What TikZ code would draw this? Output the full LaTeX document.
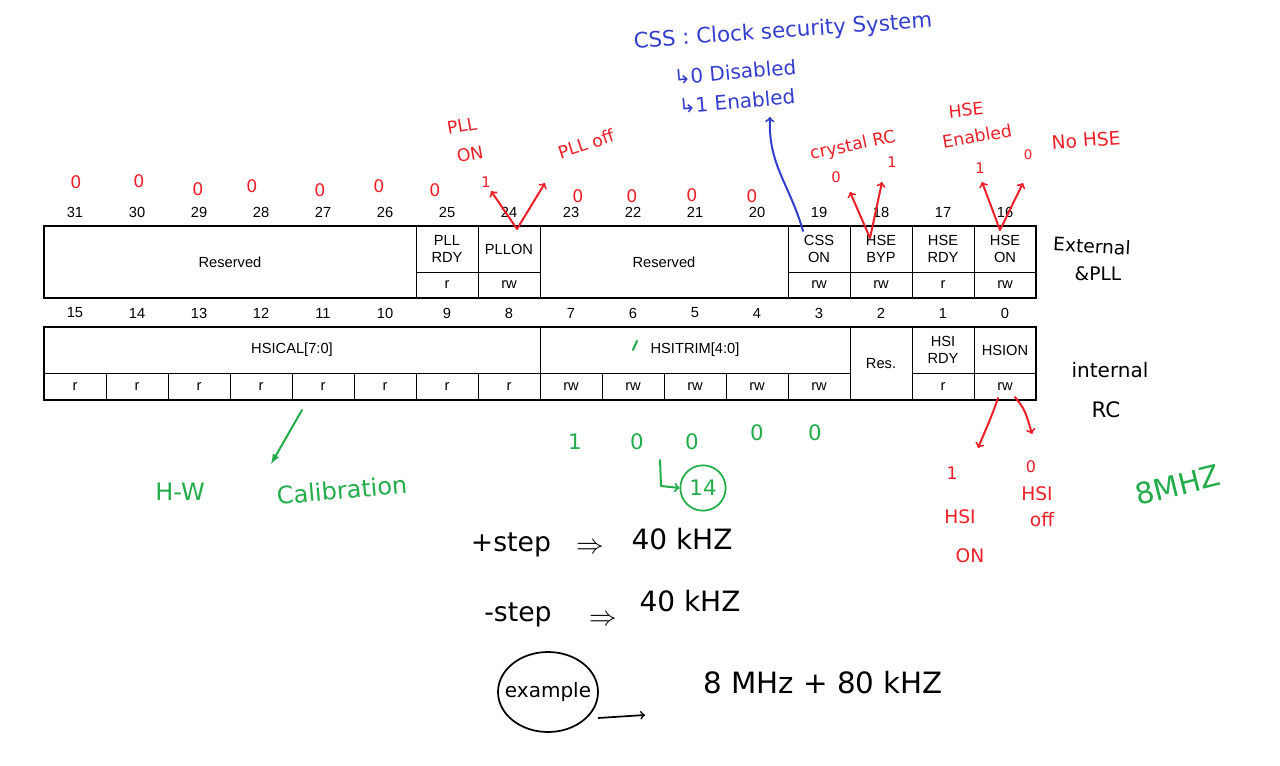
\documentclass[tikz,border=0pt]{standalone}
\usepackage{fontspec}
\setmainfont{Liberation Sans}
\newfontfamily\handfont{DejaVu Sans}
\usepackage{xcolor}
\usetikzlibrary{calc}

\definecolor{penred}{RGB}{236,32,40}
\definecolor{penblue}{RGB}{52,62,205}
\definecolor{pengreen}{RGB}{34,172,74}

\tikzset{
	bitfont/.style = {font = \fontsize{11}{12.5}\selectfont, align = center, inner sep = 0pt},
	handtext/.style = {font = \handfont\fontsize{#1}{#1}\selectfont, align = center, inner sep = 0pt},
	penstroke/.style = {line width = 1.5pt, line cap = round, line join = round}
}

% one field of the register: name, first column, last column + 1, top, bottom, text
\newcommand{\regfield}[6]{%
	\draw ({\xo+(#2)*\cw},#4) rectangle ({\xo+(#3)*\cw},#5);
	\node (#1) at ({\xo+((#2)+(#3))/2*\cw},{(#4+#5)/2}) [bitfont] {#6};
}

\begin{document}
\begin{tikzpicture}[x = 0.75pt, y = -0.75pt, line width = 0.7pt]
		\def\xo{44};
		\def\cw{62};
		
		\useasboundingbox (0,0) rectangle (1280,766);
		
		% bit numbers
		\foreach \b in {16,...,31}
			\node (bit\b) at ({\xo+(31-\b+0.5)*\cw},212) [bitfont] {\b};
		\foreach \b in {0,...,15}
			\node (bit\b) at ({\xo+(15-\b+0.5)*\cw},313) [bitfont] {\b};
		
		% upper half word
		\regfield{resA}{0}{6}{226}{298}{Reserved}
		\regfield{pllrdy}{6}{7}{226}{272}{PLL\\RDY}
		\regfield{pllrdyacc}{6}{7}{272}{298}{r}
		\regfield{pllon}{7}{8}{226}{272}{PLLON}
		\regfield{pllonacc}{7}{8}{272}{298}{rw}
		\regfield{resB}{8}{12}{226}{298}{Reserved}
		\regfield{csson}{12}{13}{226}{272}{CSS\\ON}
		\regfield{cssonacc}{12}{13}{272}{298}{rw}
		\regfield{hsebyp}{13}{14}{226}{272}{HSE\\BYP}
		\regfield{hsebypacc}{13}{14}{272}{298}{rw}
		\regfield{hserdy}{14}{15}{226}{272}{HSE\\RDY}
		\regfield{hserdyacc}{14}{15}{272}{298}{r}
		\regfield{hseon}{15}{16}{226}{272}{HSE\\ON}
		\regfield{hseonacc}{15}{16}{272}{298}{rw}
		\draw [line width = 1.3pt] (\xo,226) rectangle ({\xo+16*\cw},298);
		
		% lower half word
		\regfield{hsical}{0}{8}{327}{373}{HSICAL[7:0]}
		\foreach \k in {0,...,7}
			{\regfield{cal\k}{\k}{\k+1}{373}{400}{r}}
		\regfield{hsitrim}{8}{13}{327}{373}{HSITRIM[4:0]}
		\foreach \k in {8,...,12}
			{\regfield{trim\k}{\k}{\k+1}{373}{400}{rw}}
		\regfield{res}{13}{14}{327}{400}{Res.}
		\regfield{hsirdy}{14}{15}{327}{373}{HSI\\RDY}
		\regfield{hsirdyacc}{14}{15}{373}{400}{r}
		\regfield{hsion}{15}{16}{327}{373}{HSION}
		\regfield{hsionacc}{15}{16}{373}{400}{rw}
		\draw [line width = 1.3pt] (\xo,327) rectangle ({\xo+16*\cw},400);
		
		% red notes above the upper half word
		\foreach \x/\y [count = \i] in {76/182, 139/181, 198/189, 252/186, 320/190, 379/186, 435/190, 578/196, 632/196, 692/195, 752/196}
			\node (zero\i) at (\x,\y) [handtext = 13, penred] {0};
		
		\node (pllnote) at (462,126) [handtext = 13, penred, rotate = 10] {PLL};
		\node (onnote) at (470,154) [handtext = 13, penred, rotate = 10] {ON};
		\node (pllone) at (486,182) [handtext = 11, penred] {1};
		\node (plloffnote) at (586,144) [handtext = 13, penred, rotate = 18] {PLL off};
		\coordinate (pllfoot) at (517,229);
		\draw [penred, penstroke, ->] (pllfoot) -- (491,191);
		\draw [penred, penstroke, ->] (pllfoot) -- (545,183);
		
		\node (crystnote) at (853,146) [handtext = 13, penred, rotate = 12] {crystal RC};
		\node (bypzero) at (836,177) [handtext = 11, penred] {0};
		\node (bypone) at (892,162) [handtext = 11, penred] {1};
		\coordinate (bypfoot) at (870,238);
		\draw [penred, penstroke, ->] (bypfoot) -- (850,192);
		\draw [penred, penstroke, ->] (bypfoot) -- (882,182);
		
		\node (hsenote) at (966,110) [handtext = 13, penred, rotate = 6] {HSE};
		\node (ennote) at (977,136) [handtext = 13, penred, rotate = 10] {Enabled};
		\node (hseone) at (980,168) [handtext = 11, penred] {1};
		\node (hsezero) at (1028,155) [handtext = 10, penred] {0};
		\node (nohsenote) at (1086,140) [handtext = 14, penred, rotate = 4] {No HSE};
		\coordinate (hsefoot) at (1000,230);
		\draw [penred, penstroke, ->] (hsefoot) -- (982,182);
		\draw [penred, penstroke, ->] (hsefoot) -- (1023,183);
		
		% blue notes on CSS
		\node (cssnote) at (783,32) [handtext = 16, penblue, rotate = 4] {CSS : Clock security System};
		\node (cssoff) at (735,72) [handtext = 15, penblue, rotate = 5] {↳0 Disabled};
		\node (csson1) at (737,101) [handtext = 15, penblue, rotate = 5] {↳1 Enabled};
		\coordinate (cssfoot) at (803,231);
		\draw [penblue, penstroke, ->] (cssfoot) .. controls (790,185) and (768,165) .. (770,117);
		
		% black notes on the right
		\node (extnote) at (1092,246) [handtext = 14, rotate = -3] {External};
		\node (pllnoteb) at (1098,274) [handtext = 14] {\&PLL};
		\node (intnote) at (1110,370) [handtext = 15] {internal};
		\node (rcnote) at (1106,410) [handtext = 16] {RC};
		
		% red notes on HSION
		\coordinate (hsionfoot) at (998,398);
		\coordinate (hsionfootb) at (1015,397);
		\draw [penred, penstroke, ->] (hsionfoot) .. controls (992,415) .. (978,448);
		\draw [penred, penstroke, ->] (hsionfootb) .. controls (1025,410) .. (1032,434);
		\node (hsionone) at (952,473) [handtext = 13, penred] {1};
		\node (hsionnote) at (960,517) [handtext = 14, penred] {HSI};
		\node (onnoteb) at (970,556) [handtext = 14, penred] {ON};
		\node (hsionzero) at (1031,467) [handtext = 12, penred] {0};
		\node (hsioffnote) at (1037,494) [handtext = 14, penred] {HSI};
		\node (offnote) at (1042,520) [handtext = 14, penred] {off};
		
		% green notes
		\node (mhznote) at (1178,485) [handtext = 22, pengreen, rotate = 14] {8MHZ};
		\node (hwnote) at (180,492) [handtext = 18, pengreen] {H-W};
		\node (calnote) at (342,490) [handtext = 18, pengreen, rotate = 5] {Calibration};
		\coordinate (calfoot) at (302,410);
		\coordinate (caltip) at (271,464);
		\draw [pengreen, penstroke, -latex] (calfoot) -- (caltip);
		\draw [pengreen, penstroke] (633,350) -- (637,341);
		\foreach \x/\y/\d [count = \i] in {575/442/1, 637/442/0, 692/442/0, 757/433/0, 815/433/0}
			\node (trimbit\i) at (\x,\y) [handtext = 16, pengreen] {\d};
		\node (fourteen) at (703,488) [handtext = 16, pengreen, draw, circle, line width = 1.3pt, minimum size = 34pt] {14};
		\coordinate (lstart) at (660,460);
		\draw [pengreen, penstroke, ->] (lstart) -- (661,486) -- (fourteen.west);
		
		% black notes on the trimming step
		\node (plusstep) at (511,545) [handtext = 20] {+step};
		\node (plusimp) at (590,548) [handtext = 22] {$\Rightarrow$};
		\node (plusval) at (682,539) [handtext = 21] {40 kHZ};
		\node (minusstep) at (518,615) [handtext = 20] {-step};
		\node (minusimp) at (603,620) [handtext = 22] {$\Rightarrow$};
		\node (minusval) at (690,601) [handtext = 21] {40 kHZ};
		\node (example) at (548,692) [handtext = 15] {example};
		\draw [line width = 1.3pt] (example) circle [x radius = 50, y radius = 40];
		\node (exval) at (823,683) [handtext = 22] {8 MHz + 80 kHZ};
		\coordinate (exarrow) at (598,718);
		\draw [line width = 1.3pt, ->] (exarrow) -- (645,715);
	\end{tikzpicture}
\end{document}
